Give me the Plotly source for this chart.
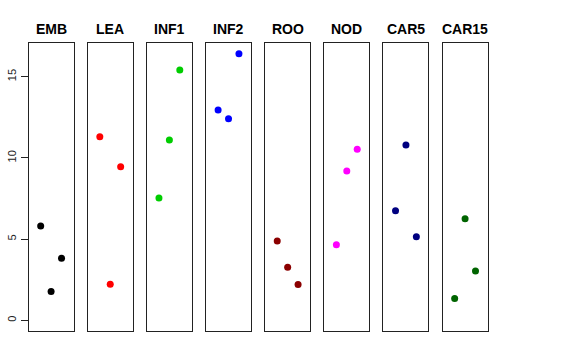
import plotly.graph_objects as go

panels = ["EMB", "LEA", "INF1", "INF2", "ROO", "NOD", "CAR5", "CAR15"]
colors = ["#000000", "#FF0000", "#00CD00", "#0000FF", "#8B0000", "#FF00FF", "#000080", "#006400"]
x_pos = [1, 2, 3]
values = {
    "EMB":   [5.81, 1.77, 3.82],
    "LEA":   [11.30, 2.22, 9.45],
    "INF1":  [7.54, 11.10, 15.41],
    "INF2":  [12.95, 12.41, 16.42],
    "ROO":   [4.89, 3.27, 2.20],
    "NOD":   [4.66, 9.19, 10.54],
    "CAR5":  [6.74, 10.79, 5.14],
    "CAR15": [1.34, 6.25, 3.04],
}
y_ticks = [0, 5, 10, 15]

W, H = 576, 360
left0, pitch, pw = 28.6, 59.14, 45.0
top_px, bot_px = 43, 331

ymax = max(max(v) for v in values.values())
pad = 0.04 * ymax
yrange = [-pad, ymax + pad]

fig = go.Figure()
annotations = []
for i, name in enumerate(panels):
    ax = "" if i == 0 else str(i + 1)
    x0 = (left0 + i * pitch) / W
    x1 = (left0 + i * pitch + pw) / W
    fig.add_trace(go.Scatter(
        x=x_pos, y=values[name], mode="markers",
        marker=dict(color=colors[i], size=7),
        xaxis="x" + ax, yaxis="y" + ax, showlegend=False, hoverinfo="skip"))
    fig.layout["xaxis" + ax] = dict(
        domain=[x0, x1], range=[-0.16, 4.16], showgrid=False, zeroline=False,
        showticklabels=False, ticks="", showline=True, mirror=True,
        linecolor="#222", linewidth=1, anchor="y" + ax)
    ydict = dict(
        domain=[(H - bot_px) / H, (H - top_px) / H], range=yrange,
        showgrid=False, zeroline=False, showline=True, mirror=True,
        linecolor="#222", linewidth=1, anchor="x" + ax)
    if i == 0:
        ydict.update(ticks="outside", ticklen=7, tickcolor="#222",
                     tickvals=y_ticks, ticktext=[str(t) for t in y_ticks],
                     tickangle=-90, tickfont=dict(size=11, color="#222",
                                                  family="Liberation Sans, Arial, sans-serif"))
    else:
        ydict.update(showticklabels=False, ticks="")
    fig.layout["yaxis" + ax] = ydict
    annotations.append(dict(
        x=(x0 + x1) / 2, y=(H - 29) / H, xref="paper", yref="paper",
        text="<b>" + name + "</b>", showarrow=False,
        font=dict(size=14, color="black", family="Liberation Sans, Arial, sans-serif"),
        xanchor="center", yanchor="middle"))

fig.update_layout(
    width=W, height=H, margin=dict(l=0, r=0, t=0, b=0),
    paper_bgcolor="white", plot_bgcolor="white",
    annotations=annotations)

fig.write_html("out.html", config={"displayModeBar": False},
               post_script="document.body.style.margin='0';")
